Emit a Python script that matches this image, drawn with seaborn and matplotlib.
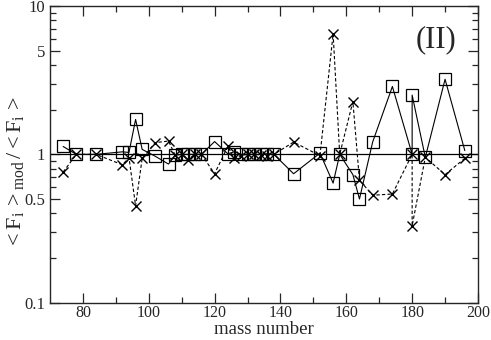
import matplotlib
matplotlib.use("Agg")
import matplotlib.pyplot as plt
from matplotlib.ticker import FixedLocator, NullFormatter
import pandas as pd
import seaborn as sns

# mass numbers (two nuclei at A=180)
mass_sq = [74, 78, 84, 92, 94, 96, 98, 102, 106, 108, 110, 112, 114, 116, 120, 124, 126, 128,
           130, 132, 134, 136, 138, 144, 152, 156, 158, 162, 164, 168, 174, 180, 180, 184, 190, 196]
ratio_sq = [1.13, 1.0, 1.0, 1.04, 1.03, 1.72, 1.08, 0.97, 0.86, 0.99, 1.0, 1.0, 1.0, 1.0, 1.22,
            1.01, 1.04, 1.0, 1.0, 1.0, 1.0, 1.01, 1.0, 0.74, 1.02, 0.64, 1.0, 0.73, 0.50, 1.21,
            2.87, 1.0, 2.51, 0.955, 3.21, 1.06]

mass_x = mass_sq
ratio_x = [0.76, 1.0, 1.0, 0.85, 0.95, 0.45, 0.94, 1.20, 1.23, 0.99, 1.0, 0.92, 1.0, 1.0, 0.74,
           1.13, 0.94, 0.98, 1.0, 1.0, 0.99, 0.97, 1.0, 1.21, 0.98, 6.5, 1.0, 2.27, 0.67, 0.53,
           0.54, 1.0, 0.33, 0.955, 0.73, 0.94]

y_major = [0.1, 0.5, 1, 5, 10]
y_labels = ["0.1", "0.5", "1", "5", "10"]
y_minor = [0.2, 0.3, 0.4, 0.6, 0.7, 0.8, 0.9, 2, 3, 4, 6, 7, 8, 9]

sns.set_style("ticks")
plt.rcParams["font.family"] = ["Liberation Serif", "DejaVu Serif"]
plt.rcParams["mathtext.fontset"] = "custom"
plt.rcParams["mathtext.rm"] = "Liberation Serif"
plt.rcParams["mathtext.it"] = "Liberation Serif"

df_sq = pd.DataFrame({"A": mass_sq, "r": ratio_sq})
df_x = pd.DataFrame({"A": mass_x, "r": ratio_x})

fig = plt.figure(figsize=(4.91, 3.40), dpi=100)
ax = fig.add_axes([0.1018, 0.11, 0.8717, 0.872])

ax.axhline(1.0, color="black", lw=0.9, zorder=1)

sns.lineplot(data=df_x, x="A", y="r", ax=ax, sort=False, estimator=None,
             color="black", lw=0.8, linestyle=(0, (3, 2)),
             marker="x", ms=6.5, mew=1.0, mec="black")
sns.lineplot(data=df_sq, x="A", y="r", ax=ax, sort=False, estimator=None,
             color="black", lw=0.8,
             marker="s", ms=8, mfc="none", mew=0.9, mec="black")

ax.set_yscale("log")
ax.set_xlim(70, 200)
ax.set_ylim(0.1, 10)

ax.set_xticks(range(80, 201, 20))
ax.set_xticks(range(90, 200, 20), minor=True)
ax.yaxis.set_major_locator(FixedLocator(y_major))
ax.yaxis.set_minor_locator(FixedLocator(y_minor))
ax.set_yticklabels(y_labels)
ax.yaxis.set_minor_formatter(NullFormatter())

ax.tick_params(which="both", direction="in", top=True, right=True, labelsize=12, width=0.9)
ax.tick_params(which="major", length=7)
ax.tick_params(which="minor", length=4)
ax.tick_params(axis="x", pad=2, labelsize=11.5)
for s in ax.spines.values():
    s.set_linewidth(1.0)

ax.set_xlabel("mass number", fontsize=13.5, va="baseline")
ax.xaxis.set_label_coords(0.5, -0.106)
ax.set_ylabel(r"$\mathregular{<F_i\,>_{mod}\,/<F_i\,>}$", fontsize=16, va="center", ha="center")
ax.yaxis.set_label_coords(-0.08, 0.44)
ax.text(0.902, 0.887, "(II)", transform=ax.transAxes, ha="center", va="center", fontsize=22)

fig.savefig("out.png", dpi=100)
